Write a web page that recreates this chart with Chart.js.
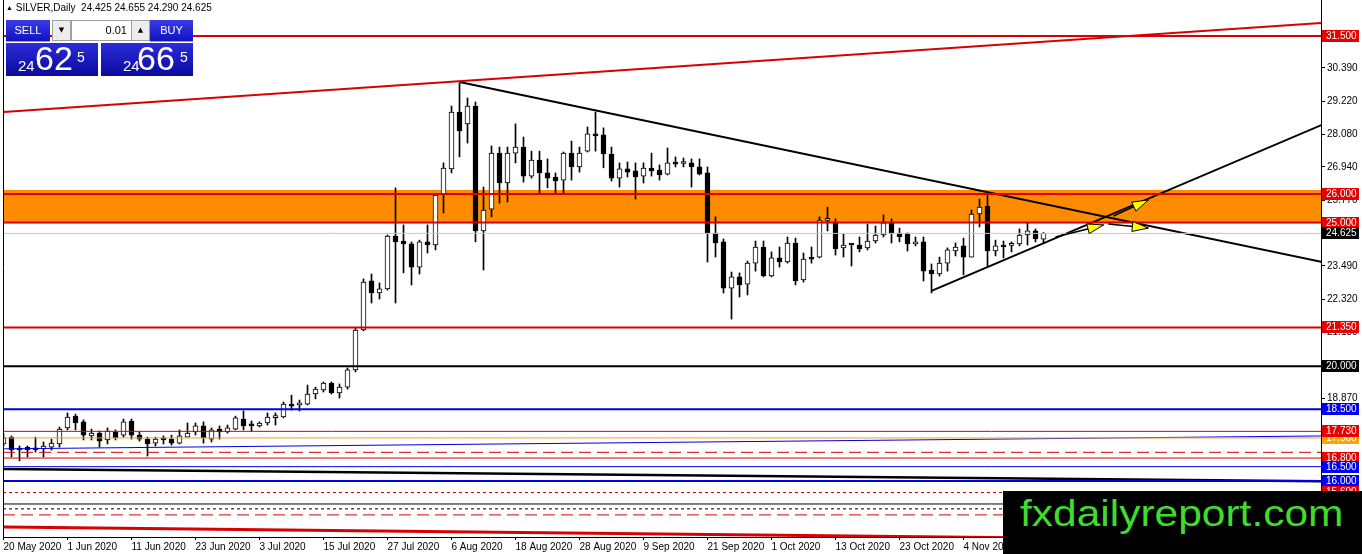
<!DOCTYPE html>
<html>
<head>
<meta charset="utf-8">
<title>SILVER,Daily</title>
<script src="https://cdn.jsdelivr.net/npm/chart.js@4.4.1/dist/chart.umd.min.js"></script>
<style>
body { margin: 0; overflow: hidden; background: #fff; }
#wrap { position: relative; width: 1362px; height: 554px; }
#c { position: absolute; left: 0; top: 0; }
#hdr { position: absolute; left: 6px; top: 2px; font: 10px 'Liberation Sans', sans-serif; color: #000; white-space: pre; }
#hdr b { font-size: 7px; font-weight: normal; position: relative; top: -1px; }
.btn { position: absolute; top: 20px; height: 21px; background: linear-gradient(#3a3ae6, #1212c0); color: #fff;
       font: 11px 'Liberation Sans', sans-serif; text-align: center; line-height: 21px; border-bottom: 1px solid #9a9ae0; }
#sell { left: 6px; width: 44px; }
#buy { left: 150px; width: 43px; }
.spin { position: absolute; top: 20px; height: 19px; width: 17px; background: #ededed; border: 1px solid #a0a0a0;
        font: 7px 'DejaVu Sans', sans-serif; text-align: center; line-height: 19px; color: #000; }
#dn { left: 52px; }
#up { left: 131px; }
#lot { position: absolute; left: 71px; top: 20px; width: 55px; height: 19px; background: #fff; border: 1px solid #a0a0a0;
       font: 11px 'Liberation Sans', sans-serif; text-align: right; padding-right: 4px; line-height: 19px; color: #000; }
.price { position: absolute; top: 43px; height: 33px; width: 92px; background: linear-gradient(#2c2cdc, #0a0a9c); color: #fff;
         font-family: 'Liberation Sans', sans-serif; }
#sp { left: 6px; }
#bp { left: 101px; }
.price span { position: absolute; line-height: 1; }
.sm { font-size: 15px; top: 15px; }
.bg { font-size: 34px; top: -2px; }
.sup { font-size: 14px; top: 7px; }
#logo { position: absolute; left: 1003px; top: 491px; width: 359px; height: 63px; background: #000; overflow: hidden; }
#logo span { position: absolute; left: 17px; top: 5px; font: 36px 'Liberation Sans', sans-serif; line-height: 1; color: #3fdc2c;
             transform: scaleX(1.18); transform-origin: left top; white-space: nowrap; }
</style>
</head>
<body>
<div id="wrap">
<canvas id="c" width="1362" height="554"></canvas>
<div id="hdr"><b>▲</b> SILVER,Daily  24.425 24.655 24.290 24.625</div>
<div class="btn" id="sell">SELL</div>
<div class="spin" id="dn">▼</div>
<div id="lot">0.01</div>
<div class="spin" id="up">▲</div>
<div class="btn" id="buy">BUY</div>
<div class="price" id="sp"><span class="sm" style="left:12px">24</span><span class="bg" style="left:29px">62</span><span class="sup" style="left:71px">5</span></div>
<div class="price" id="bp"><span class="sm" style="left:22px">24</span><span class="bg" style="left:36px">66</span><span class="sup" style="left:79px">5</span></div>
<div id="logo"><span>fxdailyreport.com</span></div>
</div>
<script>
// daily bars, 20 May 2020 .. 18 Nov 2020
var opens = [17.29, 17.53, 17.15, 17.18, 17.12, 17.12, 17.18, 17.29, 17.85, 18.26,
    18.06, 17.57, 17.67, 17.43, 17.71, 17.60, 18.09, 17.60, 17.46, 17.32,
    17.50, 17.46, 17.32, 17.53, 17.71, 17.92, 17.46, 17.81, 17.71, 17.81,
    18.16, 17.99, 17.92, 18.02, 18.21, 18.23, 18.68, 18.65, 18.68, 19.03,
    19.17, 19.41, 19.07, 19.27, 19.87, 21.26, 22.97, 22.55, 22.69, 24.53,
    24.36, 24.26, 23.45, 24.33, 24.22, 25.99, 26.87, 28.85, 28.44, 29.06,
    24.71, 25.47, 27.42, 26.38, 27.42, 27.63, 26.62, 27.18, 26.73, 26.59,
    26.48, 27.42, 26.94, 27.49, 28.09, 28.06, 27.39, 26.55, 26.87, 26.80,
    26.62, 26.90, 26.83, 26.69, 27.08, 27.06, 27.08, 26.94, 26.73, 24.64,
    24.33, 22.72, 23.11, 22.86, 23.59, 24.15, 23.14, 23.77, 23.63, 24.29,
    23.00, 23.80, 23.80, 25.08, 25.02, 24.12, 24.26, 24.22, 24.12, 24.36,
    24.57, 24.99, 24.64, 24.64, 24.26, 24.33, 23.35, 23.21, 23.59, 24.01,
    24.19, 23.80, 25.30, 25.58, 24.01, 24.22, 24.21, 24.26, 24.57, 24.71,
    24.425];
var highs = [17.64, 17.57, 17.22, 17.22, 17.53, 17.36, 17.46, 17.88, 18.37, 18.33,
    18.13, 17.81, 17.74, 17.85, 17.78, 18.16, 18.16, 17.71, 17.53, 17.53,
    17.57, 17.60, 17.78, 18.02, 18.02, 18.06, 17.85, 17.92, 17.95, 18.26,
    18.44, 18.09, 18.06, 18.37, 18.37, 18.75, 18.99, 18.82, 19.34, 19.27,
    19.45, 19.45, 19.38, 19.94, 21.33, 23.04, 23.21, 22.90, 24.57, 26.21,
    24.92, 24.33, 24.39, 24.92, 25.99, 27.08, 29.06, 29.86, 29.34, 29.20,
    26.24, 27.67, 27.63, 27.63, 28.44, 27.98, 27.49, 27.49, 27.22, 26.73,
    27.46, 27.84, 27.63, 28.33, 28.85, 28.30, 27.63, 27.08, 27.11, 27.08,
    27.08, 27.42, 27.01, 27.60, 27.29, 27.25, 27.22, 27.22, 26.94, 25.20,
    24.43, 23.28, 23.25, 23.66, 24.36, 24.36, 23.98, 24.15, 24.50, 24.46,
    23.94, 24.15, 25.20, 25.54, 25.13, 24.60, 24.26, 24.50, 24.95, 24.88,
    25.27, 25.13, 24.81, 24.64, 24.50, 24.50, 23.56, 23.80, 24.12, 24.29,
    24.46, 25.44, 25.82, 26.03, 24.39, 24.36, 24.33, 24.78, 24.99, 24.78,
    24.655];
var lows = [17.22, 16.84, 16.70, 16.84, 17.01, 16.84, 17.08, 17.18, 17.78, 17.78,
    17.43, 17.43, 17.18, 17.29, 17.43, 17.53, 17.46, 17.39, 16.87, 17.22,
    17.29, 17.25, 17.29, 17.53, 17.60, 17.32, 17.36, 17.46, 17.67, 17.78,
    17.78, 17.74, 17.88, 17.95, 17.95, 18.20, 18.47, 18.44, 18.65, 18.86,
    19.10, 19.03, 18.89, 19.20, 19.80, 21.23, 22.20, 22.34, 22.65, 22.20,
    23.25, 22.83, 23.21, 23.94, 24.05, 25.34, 26.73, 27.29, 27.77, 24.33,
    23.35, 25.20, 25.68, 25.72, 27.08, 26.41, 26.55, 26.03, 26.21, 26.03,
    26.03, 26.48, 26.76, 27.46, 27.49, 26.91, 26.45, 26.24, 26.59, 25.82,
    26.38, 26.62, 26.48, 26.66, 26.94, 26.94, 26.24, 26.66, 23.63, 23.80,
    22.55, 21.64, 22.41, 22.48, 23.31, 23.11, 23.11, 23.45, 23.59, 22.83,
    22.93, 23.59, 23.77, 24.71, 23.87, 23.80, 23.49, 23.98, 24.05, 24.29,
    24.50, 24.29, 24.33, 24.01, 24.19, 22.97, 22.55, 23.14, 23.31, 23.84,
    23.18, 23.80, 24.85, 23.49, 23.84, 23.77, 23.98, 24.19, 24.22, 24.33,
    24.290];
var closes = [17.50, 17.08, 17.08, 17.08, 17.09, 17.22, 17.32, 17.81, 18.23, 18.02,
    17.60, 17.67, 17.39, 17.74, 17.50, 18.06, 17.60, 17.46, 17.29, 17.46,
    17.43, 17.32, 17.57, 17.67, 17.92, 17.50, 17.78, 17.71, 17.85, 18.20,
    17.92, 17.92, 18.02, 18.23, 18.24, 18.68, 18.61, 18.72, 19.03, 19.20,
    19.41, 19.07, 19.27, 19.87, 21.26, 22.93, 22.55, 22.69, 24.53, 24.33,
    24.26, 23.45, 24.33, 24.22, 25.96, 26.90, 28.85, 28.19, 29.06, 24.71,
    25.44, 27.42, 26.38, 27.42, 27.63, 26.62, 27.18, 26.73, 26.55, 26.45,
    27.42, 26.94, 27.42, 28.09, 28.02, 27.39, 26.55, 26.87, 26.76, 26.59,
    26.90, 26.80, 26.66, 27.08, 27.04, 27.08, 26.94, 26.69, 24.64, 24.29,
    22.72, 23.11, 22.83, 23.59, 24.15, 23.14, 23.77, 23.63, 24.29, 22.97,
    23.73, 23.73, 25.09, 25.11, 24.08, 24.22, 24.22, 24.08, 24.36, 24.57,
    24.99, 24.64, 24.50, 24.26, 24.33, 23.31, 23.21, 23.59, 24.05, 24.15,
    23.80, 25.30, 25.54, 24.01, 24.19, 24.15, 24.24, 24.57, 24.71, 24.43,
    24.625];

// time axis labels, one every 8 bars
var dateLabels = ['20 May 2020', '1 Jun 2020', '11 Jun 2020', '23 Jun 2020', '3 Jul 2020', '15 Jul 2020',
    '27 Jul 2020', '6 Aug 2020', '18 Aug 2020', '28 Aug 2020', '9 Sep 2020', '21 Sep 2020',
    '1 Oct 2020', '13 Oct 2020', '23 Oct 2020', '4 Nov 2020'];
var dateTicks = [0, 8, 16, 24, 32, 40, 48, 56, 64, 72, 80, 88, 96, 104, 112, 120];

// price axis labels
var priceTicks = [30.39, 29.22, 28.08, 26.94, 25.77, 23.49, 22.32, 21.18, 18.87];

// horizontal levels
var levels = [31.5, 26.0, 25.0, 24.625, 21.35, 20.0, 18.5, 17.73, 17.5, 17.0, 16.8, 16.5, 16.0, 15.6, 15.2, 15.03, 14.82];
var zone = [24.98, 26.14];

// sloped lines: [bar, price, bar, price]
var trendRed = [0, 28.85, 164.75, 31.95];
var trendDown = [57, 29.90, 164.75, 23.63];
var trendUp = [116, 22.62, 164.75, 28.40];
var slopeBlue = [0, 17.12, 164.75, 17.57];
var slopeBlack = [0, 16.42, 164.75, 15.99];
var slopeRedLow = [0, 14.40, 164.75, 13.91];

// yellow arrows: [bar, price, bar, price]
var arrows = [[131.5, 24.50, 137.5, 24.92], [138.75, 25.23, 143.1, 25.79], [138.1, 24.95, 143.1, 24.81]];

// price tags on the right axis
var tagValues = [31.5, 26.0, 25.0, 24.625, 21.35, 20.0, 18.5, 17.5, 17.73, 16.8, 16.5, 16.0, 15.6];

var RED = '#d80000', BLUE = '#0000e0';
var levelStyle = [
    [RED, 2], [RED, 2], [RED, 2], ['#c4c4c4', 1], [RED, 2], ['#000', 2], [BLUE, 2], [RED, 1], ['#eea030', 1],
    [RED, 1, [12, 6]], [RED, 1], [BLUE, 1], [BLUE, 2], [RED, 1, [3, 3]], ['#000', 1], ['#000', 1, [3, 3]], [RED, 1, [12, 6]]
];
var tagColors = ['#e60000', '#e60000', '#e60000', '#000', '#e60000', '#000', '#0000f0', '#ffa500', '#e60000',
    '#e60000', '#0000f0', '#0000f0', '#e60000'];

var X_MIN = -0.0625, X_MAX = 164.6875;
var Y_MAX = 32.754, Y_MIN = 14.05;

function segment(seg, color, width, dash) {
    return {
        type: 'line',
        data: [{x: seg[0], y: seg[1]}, {x: seg[2], y: seg[3]}],
        borderColor: color,
        borderWidth: width,
        borderDash: dash || [],
        pointRadius: 0,
        fill: false,
        order: 1
    };
}

function buildDatasets() {
    var sets = [];
    var i;
    sets.push({type: 'line', data: [{x: X_MIN, y: zone[1]}, {x: X_MAX, y: zone[1]}], borderWidth: 0, pointRadius: 0, fill: false, order: 10});
    sets.push({type: 'line', data: [{x: X_MIN, y: zone[0]}, {x: X_MAX, y: zone[0]}], borderWidth: 0, pointRadius: 0,
        fill: '-1', backgroundColor: '#ff8c00', order: 9});

    var wicks = [], bodies = [], fills = [];
    for (i = 0; i < opens.length; i++) {
        wicks.push({x: i, y: [lows[i], highs[i]]});
        bodies.push({x: i, y: [Math.min(opens[i], closes[i]), Math.max(opens[i], closes[i])]});
        fills.push(closes[i] >= opens[i] ? '#fff' : '#000');
    }
    sets.push({type: 'bar', data: wicks, backgroundColor: '#000', barThickness: 1, grouped: false, order: 5});
    sets.push({type: 'bar', data: bodies, backgroundColor: fills, borderColor: '#000', borderWidth: 1,
        borderSkipped: false, barThickness: 5, minBarLength: 2, grouped: false, order: 4});

    for (i = 0; i < levels.length; i++) {
        var st = levelStyle[i];
        sets.push(segment([X_MIN, levels[i], X_MAX, levels[i]], st[0], st[1], st[2]));
    }
    sets.push(segment(slopeBlue, BLUE, 1));
    sets.push(segment(slopeBlack, '#000', 2.5));
    sets.push(segment(slopeRedLow, RED, 3));
    sets.push(segment(trendRed, RED, 2));
    sets.push(segment(trendDown, '#000', 2));
    sets.push(segment(trendUp, '#000', 2));
    return sets;
}

var framePlugin = {
    id: 'frame',
    afterDraw: function(chart) {
        var a = chart.chartArea, ctx = chart.ctx;
        ctx.save();
        ctx.strokeStyle = '#000';
        ctx.lineWidth = 1;
        ctx.beginPath();
        ctx.moveTo(a.left + 0.5, a.top);
        ctx.lineTo(a.left + 0.5, a.bottom);
        ctx.stroke();
        ctx.restore();
    }
};

var arrowPlugin = {
    id: 'arrows',
    afterDatasetsDraw: function(chart) {
        var xs = chart.scales.x, ys = chart.scales.y, ctx = chart.ctx;
        ctx.save();
        arrows.forEach(function(a) {
            var x1 = xs.getPixelForValue(a[0]), y1 = ys.getPixelForValue(a[1]);
            var x2 = xs.getPixelForValue(a[2]), y2 = ys.getPixelForValue(a[3]);
            var ang = Math.atan2(y2 - y1, x2 - x1);
            ctx.strokeStyle = '#000';
            ctx.lineWidth = 1.5;
            ctx.beginPath();
            ctx.moveTo(x1, y1);
            ctx.lineTo(x2, y2);
            ctx.stroke();
            var len = 16, half = 5;
            var bx = x2 - len * Math.cos(ang), by = y2 - len * Math.sin(ang);
            ctx.beginPath();
            ctx.moveTo(x2, y2);
            ctx.lineTo(bx + half * Math.sin(ang), by - half * Math.cos(ang));
            ctx.lineTo(bx - half * Math.sin(ang), by + half * Math.cos(ang));
            ctx.closePath();
            ctx.fillStyle = '#ffff00';
            ctx.fill();
            ctx.lineWidth = 1;
            ctx.stroke();
        });
        ctx.restore();
    }
};

var tagPlugin = {
    id: 'tags',
    afterDraw: function(chart) {
        var ys = chart.scales.y, ctx = chart.ctx;
        ctx.save();
        ctx.font = '10px "Liberation Sans"';
        ctx.textBaseline = 'middle';
        tagValues.forEach(function(v, k) {
            var py = Math.round(ys.getPixelForValue(v));
            ctx.fillStyle = tagColors[k];
            ctx.fillRect(ys.left + 1, py - 6, 37, 12);
            ctx.fillStyle = '#fff';
            ctx.fillText(v.toFixed(3), ys.left + 5, py + 0.5);
        });
        ctx.restore();
    }
};

window.onload = function() {
    var ctx = document.getElementById('c').getContext('2d');
    window.silverChart = new Chart(ctx, {
        type: 'bar',
        data: {datasets: buildDatasets()},
        options: {
            responsive: false,
            animation: false,
            events: [],
            layout: {padding: {left: 3, top: 0, right: 0, bottom: 0}},
            plugins: {legend: {display: false}, tooltip: {enabled: false}},
            scales: {
                x: {
                    type: 'linear',
                    min: X_MIN,
                    max: X_MAX,
                    offset: false,
                    afterBuildTicks: function(s) {
                        s.ticks = dateTicks.map(function(v) { return {value: v}; });
                    },
                    afterFit: function(s) {
                        s.height = 17;
                        s.paddingLeft = 0;
                        s.paddingRight = 0;
                    },
                    grid: {drawOnChartArea: false, drawTicks: true, tickLength: 3, color: '#000', offset: false},
                    border: {display: true, color: '#000', width: 1},
                    ticks: {
                        align: 'start',
                        padding: 1,
                        maxRotation: 0,
                        autoSkip: false,
                        color: '#000',
                        font: {family: 'Liberation Sans', size: 10},
                        callback: function(v, i) { return dateLabels[i]; }
                    }
                },
                y: {
                    position: 'right',
                    min: Y_MIN,
                    max: Y_MAX,
                    beginAtZero: false,
                    afterBuildTicks: function(s) {
                        s.ticks = priceTicks.map(function(v) { return {value: v}; });
                    },
                    afterFit: function(s) {
                        s.width = 41;
                        s.paddingTop = 0;
                        s.paddingBottom = 0;
                    },
                    grid: {drawOnChartArea: false, drawTicks: true, tickLength: 4, color: '#000'},
                    border: {display: true, color: '#000', width: 1},
                    ticks: {
                        padding: 2,
                        autoSkip: false,
                        color: '#000',
                        font: {family: 'Liberation Sans', size: 10},
                        callback: function(v) { return v.toFixed(3); }
                    }
                }
            }
        },
        plugins: [framePlugin, arrowPlugin, tagPlugin]
    });
};
</script>
</body>
</html>
